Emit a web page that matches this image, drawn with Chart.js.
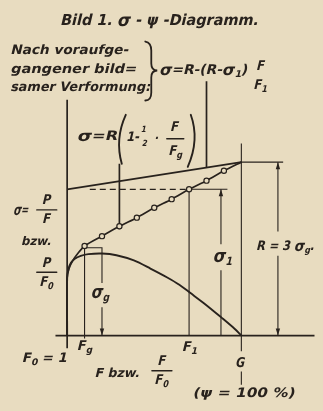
<!DOCTYPE html>
<html lang="de">
<head>
<meta charset="UTF-8">
<title>Bild 1. σ-ψ-Diagramm</title>
<script src="https://cdn.jsdelivr.net/npm/chart.js"></script>
<style>
  html, body { margin: 0; padding: 0; background: #e8dcc0; }
  canvas { display: block; }
</style>
</head>
<body>
<canvas id="diagram" width="323" height="411"></canvas>
<script>
// Abscissa: psi in percent (F0 = 1 at 0, G at 100). Ordinate: stress in units with R = 3.
const R = 3;
const sigma1 = 2.53;
const psiG = 10;
const psi1 = 70;
const psiEnd = 100;
const psiSigma1 = 88.3;   // sigma_1 dimension
const psiR = 121;         // R dimension
const boxTop = 1.52;

// true stress P/F: elastic start, measured points, end at R
const startPsi = [0, 0, 1.1, 3.3, 6.1];
const startSigma = [0, 1.0, 1.16, 1.30, 1.42];
const measuredPsi = [10, 20, 30, 40, 50, 60, 70, 80, 90];
const measuredSigma = [1.55, 1.72, 1.89, 2.04, 2.21, 2.36, 2.53, 2.68, 2.85];

// nominal stress P/F0
const nominalPsi = [0, 0, 0.8, 2.2, 4.4, 7.8, 12.2, 20, 28.3, 38.3, 47.8, 57.2, 64.4, 70.6, 79.4, 88.3, 96.1, 100];
const nominalSigma = [0, 0.99, 1.16, 1.26, 1.33, 1.38, 1.41, 1.42, 1.39, 1.30, 1.16, 1.01, 0.88, 0.74, 0.54, 0.32, 0.12, 0];

// straight line after previous gradual deformation
const afterPsi = [0, psiEnd];
const afterSigma = [sigma1, R];

const INK = '#28221d';
const PAPER = '#e8dcc0';
const FONT = '"DejaVu Sans", sans-serif';
const SLANT = -0.24;

// construction lines
const guides = [
  { xs: [0, 0], ys: [-0.22, 4.08], w: 1.7 },
  { xs: [-6.7, 142], ys: [0, 0], w: 1.7 },
  { xs: [psiG, psiG, 20, 20], ys: [-0.05, boxTop, boxTop, 0.91], w: 1.1 },
  { xs: [20, 20], ys: [0.49, 0], w: 1.1 },
  { xs: [psi1, psi1], ys: [0, sigma1], w: 1.1 },
  { xs: [psi1, 92], ys: [sigma1, sigma1], w: 1.1 },
  { xs: [psiSigma1, psiSigma1], ys: [sigma1, 1.58], w: 1.1 },
  { xs: [psiSigma1, psiSigma1], ys: [1.13, 0], w: 1.1 },
  { xs: [psiEnd, psiEnd], ys: [3.32, -0.27], w: 1.1 },
  { xs: [psiEnd, psiEnd], ys: [-0.62, -0.85], w: 1.1 },
  { xs: [psiEnd, 124], ys: [R, R], w: 1.1 },
  { xs: [psiR, psiR], ys: [R, 1.80], w: 1.1 },
  { xs: [psiR, psiR], ys: [1.38, 0], w: 1.1 },
  { xs: [30, 30], ys: [1.84, 2.97], w: 1.7 },
  { xs: [80, 80], ys: [2.90, 4.40], w: 1.7 }
];

const arrows = [
  { x: 20, y: 0, dir: 1 },
  { x: psiSigma1, y: sigma1, dir: -1 },
  { x: psiR, y: R, dir: -1 },
  { x: psiR, y: 0, dir: 1 }
];

// text, placed in axis units
const labels = [
  { text: 'Bild 1. σ - ψ -Diagramm.', x: 53.3, y: 5.43, size: 15, align: 'center', width: 198 },
  { text: 'Nach voraufge-', x: -32.2, y: 4.92, size: 13, width: 118 },
  { text: 'gangener bild=', x: -32.2, y: 4.60, size: 13, width: 126 },
  { text: 'samer Verformung:', x: -32.2, y: 4.28, size: 13, width: 140 },
  { text: 'σ=R-(R-σ_1)', x: 53.3, y: 4.58, size: 13.5, width: 88 },
  { text: 'σ=', x: -30.6, y: 2.157, size: 13, width: 15 },
  { text: 'bzw.', x: -26.1, y: 1.618, size: 12, width: 30 },
  { text: 'σ_g', x: 19.3, y: 0.73, size: 16, align: 'center', width: 18 },
  { text: 'σ_1', x: 89.6, y: 1.36, size: 16, align: 'center', width: 19 },
  { text: 'R = 3 σ_g.', x: 108.9, y: 1.534, size: 13, width: 58 },
  { text: 'F_0 = 1', x: -25.6, y: -0.40, size: 13, width: 45 },
  { text: 'F_g', x: 10.3, y: -0.19, size: 13.5, align: 'center', width: 15 },
  { text: 'F_1', x: 70.6, y: -0.20, size: 13.5, align: 'center', width: 15 },
  { text: 'G', x: 99.4, y: -0.49, size: 13.5, align: 'center', width: 9 },
  { text: 'F bzw.', x: 16.1, y: -0.66, size: 12.5, width: 45 },
  { text: '(ψ = 100 %)', x: 101.7, y: -1.0, size: 13, align: 'center', width: 102 }
];

const fractions = [
  { num: 'P', den: 'F', x: -11.7, y: 2.174, size: 13.5, bar: true },
  { num: 'P', den: 'F_0', x: -11.7, y: 1.096, size: 13.5, bar: true },
  { num: 'F', den: 'F_0', x: 54.4, y: -0.607, size: 13.5, bar: true },
  { num: 'F', den: 'F_1', x: 111.1, y: 4.49, size: 13.5, bar: false }
];

const pts = (xs, ys) => xs.map((x, i) => ({ x, y: ys[i] }));
const line = (data, width, extra) => Object.assign({
  data, showLine: true, borderColor: INK, borderWidth: width,
  pointRadius: 0, tension: 0, fill: false
}, extra || {});

const datasets = [
  line(pts(measuredPsi, measuredSigma), 0, {
    showLine: false, pointRadius: 2.6, pointBorderWidth: 1.2,
    pointBorderColor: INK, pointBackgroundColor: PAPER
  }),
  line(pts(startPsi.concat(measuredPsi, [psiEnd]), startSigma.concat(measuredSigma, [R])), 1.7, { tension: 0.25 }),
  line(pts(nominalPsi, nominalSigma), 1.9, { tension: 0.3 }),
  line(pts(afterPsi, afterSigma), 1.8),
  line(pts([13, psi1], [sigma1, sigma1]), 1.2, { borderDash: [6, 4] })
].concat(guides.map(g => line(pts(g.xs, g.ys), g.w)));

// split "F_0" style strings into base, subscript and sigma runs
function splitSub(str) {
  const out = [];
  for (let i = 0; i < str.length; i++) {
    const ch = str[i];
    if (ch === '_') { out.push({ t: str[i + 1], k: 0.7, dy: 0.3 }); i++; }
    else if (ch === 'σ') out.push({ t: ch, k: 1.15, dy: 0 });
    else if (out.length && out[out.length - 1].k === 1) out[out.length - 1].t += ch;
    else out.push({ t: ch, k: 1, dy: 0 });
  }
  return out;
}

function drawText(ctx, str, x, y, size, align, width) {
  const parts = splitSub(str);
  let nat = 0;
  parts.forEach(p => {
    ctx.font = `bold ${size * p.k}px ${FONT}`;
    p.w = ctx.measureText(p.t).width;
    nat += p.w;
  });
  const sx = width ? width / nat : 0.85;
  const total = nat * sx;
  let cx = align === 'center' ? x - total / 2 : align === 'right' ? x - total : x;
  parts.forEach(p => {
    ctx.font = `bold ${size * p.k}px ${FONT}`;
    ctx.save();
    ctx.translate(cx, y + p.dy * size);
    ctx.transform(sx, 0, SLANT, 1, 0, 0);
    ctx.fillText(p.t, 0, 0);
    ctx.restore();
    cx += p.w * sx;
  });
}

function drawFraction(ctx, f, px, py) {
  drawText(ctx, f.num, px, py - 9, f.size, 'center');
  drawText(ctx, f.den, px, py + 10, f.size, 'center');
  if (f.bar) {
    ctx.lineWidth = 1.4;
    ctx.beginPath();
    ctx.moveTo(px - 10, py);
    ctx.lineTo(px + 10, py);
    ctx.stroke();
  }
}

const paper = {
  id: 'paper',
  beforeDraw(chart) {
    const c = chart.ctx;
    c.save();
    c.fillStyle = PAPER;
    c.fillRect(0, 0, chart.width, chart.height);
    c.restore();
  }
};

const annotations = {
  id: 'annotations',
  afterDatasetsDraw(chart) {
    const c = chart.ctx;
    const sx = chart.scales.x, sy = chart.scales.y;
    const X = v => sx.getPixelForValue(v);
    const Y = v => sy.getPixelForValue(v);
    c.save();
    c.fillStyle = INK;
    c.strokeStyle = INK;
    c.lineCap = 'round';

    // arrow heads
    arrows.forEach(a => {
      const ax = X(a.x), ay = Y(a.y);
      c.beginPath();
      c.moveTo(ax, ay);
      c.lineTo(ax - 2.2, ay - a.dir * 7);
      c.lineTo(ax + 2.2, ay - a.dir * 7);
      c.closePath();
      c.fill();
    });

    c.textBaseline = 'middle';
    labels.forEach(l => drawText(c, l.text, X(l.x), Y(l.y), l.size, l.align || 'left', l.width));
    fractions.forEach(f => drawFraction(c, f, X(f.x), Y(f.y)));

    // curly brace beside the note
    const bx = X(48.3), by = Y(4.584);
    c.lineWidth = 1.8;
    c.beginPath();
    c.moveTo(bx - 6, by - 29);
    c.quadraticCurveTo(bx, by - 28, bx, by - 20);
    c.lineTo(bx, by - 7);
    c.quadraticCurveTo(bx, by, bx + 6, by);
    c.quadraticCurveTo(bx, by, bx, by + 7);
    c.lineTo(bx, by + 22);
    c.quadraticCurveTo(bx, by + 30, bx - 6, by + 30);
    c.stroke();

    // sigma = R (1 - 1/2 * F/Fg)
    const mx = X(6.1), my = Y(3.438);
    drawText(c, 'σ=R', mx, my, 13, 'left', 40);
    c.lineWidth = 1.9;
    c.beginPath();
    c.moveTo(mx + 48, my - 22);
    c.quadraticCurveTo(mx + 37, my + 2, mx + 44, my + 27);
    c.stroke();
    drawText(c, '1-', mx + 49, my + 1, 13, 'left', 13);
    drawText(c, '1', mx + 66, my - 7, 8.5, 'center');
    drawText(c, '2', mx + 67, my + 7, 8.5, 'center');
    drawText(c, '·', mx + 79, my + 2, 12, 'center');
    drawText(c, 'F', mx + 97, my - 9, 13.5, 'center');
    drawText(c, 'F_g', mx + 98, my + 15, 13.5, 'center');
    c.lineWidth = 1.4;
    c.beginPath();
    c.moveTo(mx + 89, my + 2);
    c.lineTo(mx + 106, my + 2);
    c.stroke();
    c.lineWidth = 1.9;
    c.beginPath();
    c.moveTo(mx + 113, my - 22);
    c.quadraticCurveTo(mx + 122, my + 3, mx + 110, my + 30);
    c.stroke();

    c.restore();
  }
};

new Chart(document.getElementById('diagram'), {
  type: 'scatter',
  data: { datasets },
  options: {
    responsive: false,
    animation: false,
    devicePixelRatio: 1,
    events: [],
    layout: { padding: 0 },
    plugins: { legend: { display: false }, tooltip: { enabled: false } },
    scales: {
      x: { type: 'linear', display: false, min: -35.56, max: 143.89 },
      y: { type: 'linear', display: false, min: -1.2135, max: 5.7135 }
    }
  },
  plugins: [paper, annotations]
});
</script>
</body>
</html>
